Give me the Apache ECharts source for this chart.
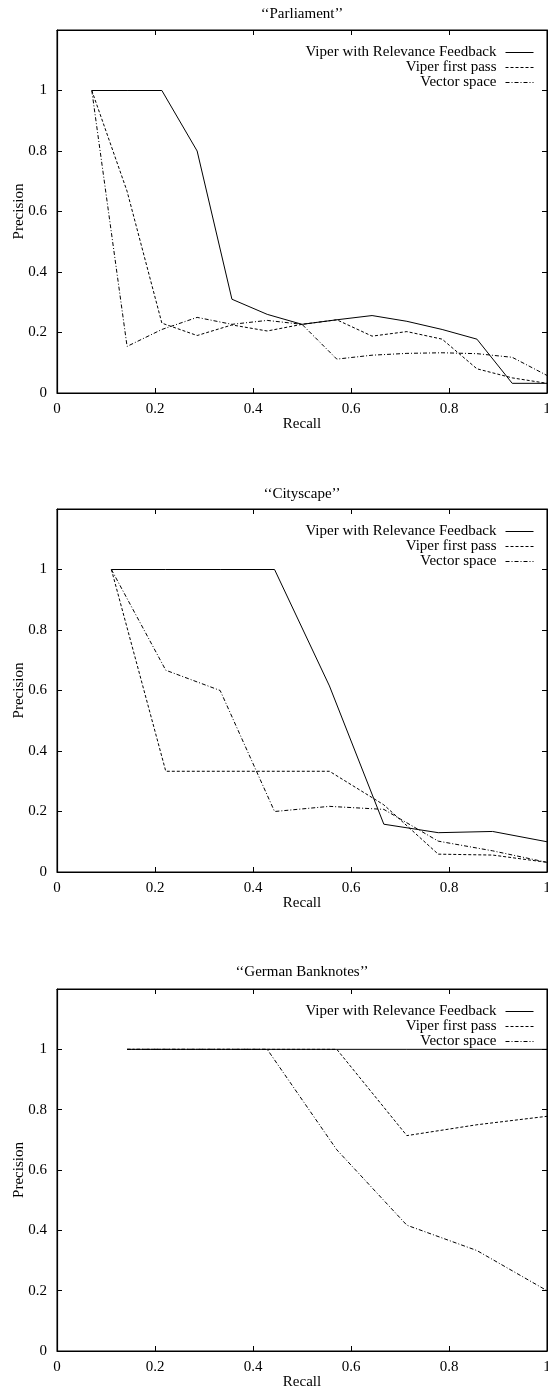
<!DOCTYPE html>
<html><head><meta charset="utf-8">
<script src="https://cdn.jsdelivr.net/npm/echarts@6/dist/echarts.min.js"></script>
<style>html,body{margin:0;padding:0;background:#fff}#c{width:548px;height:1392px}</style>
</head><body><div id="c"></div>
<script>
// ---------- data ----------
const seriesNames = ['Viper with Relevance Feedback', 'Viper first pass', 'Vector space'];
const chartTitles = ['\u2018\u2018Parliament\u2019\u2019', '\u2018\u2018Cityscape\u2019\u2019', '\u2018\u2018German Banknotes\u2019\u2019'];
const xAxisTitle = 'Recall';
const yAxisTitle = 'Precision';

const parliamentRecall   = [0.071, 0.143, 0.214, 0.286, 0.357, 0.429, 0.500, 0.571, 0.643, 0.714, 0.786, 0.857, 0.929, 1.000];
const parliamentFeedback = [1, 1, 1, 0.8, 0.31, 0.26, 0.227, 0.242, 0.256, 0.237, 0.21, 0.178, 0.032, 0.032];
const parliamentFirst    = [1, 0.667, 0.231, 0.19, 0.225, 0.205, 0.227, 0.242, 0.188, 0.203, 0.178, 0.08, 0.05, 0.032];
const parliamentVector   = [1, 0.154, 0.21, 0.25, 0.227, 0.24, 0.227, 0.112, 0.125, 0.131, 0.133, 0.13, 0.118, 0.058];

const cityRecall   = [0.111, 0.222, 0.333, 0.444, 0.556, 0.667, 0.778, 0.889, 1.000];
const cityFeedback = [1, 1, 1, 1, 0.615, 0.158, 0.13, 0.134, 0.1];
const cityFirst    = [1, 0.333, 0.333, 0.333, 0.333, 0.222, 0.059, 0.056, 0.032];
const cityVector   = [1, 0.667, 0.6, 0.2, 0.217, 0.207, 0.102, 0.07, 0.032];

const bankRecall   = [0.143, 0.286, 0.429, 0.571, 0.714, 0.857, 1.000];
const bankFeedback = [1, 1, 1, 1, 1, 1, 1];
const bankFirst    = [1, 1, 1, 1, 0.714, 0.75, 0.778];
const bankVector   = [1, 1, 1, 0.667, 0.417, 0.333, 0.2];

const panels = [
  { recall: parliamentRecall, values: [parliamentFeedback, parliamentFirst, parliamentVector] },
  { recall: cityRecall,       values: [cityFeedback, cityFirst, cityVector] },
  { recall: bankRecall,       values: [bankFeedback, bankFirst, bankVector] }
];

// ---------- layout / style ----------
const FONT = 'Liberation Serif';
const gridTops = [30, 509, 989];
const gridHeights = [363, 363, 362];
const titleTops = [7, 487, 965];
const lineTypes = ['solid', [3, 2], [4, 2, 1, 2]];
const txt = { color: '#000', fontFamily: FONT, fontSize: 15 };

const grid = [], xAxis = [], yAxis = [], series = [], title = [], legend = [];
panels.forEach((p, k) => {
  grid.push({ left: 57, right: 1, top: gridTops[k], height: gridHeights[k], show: true,
              borderColor: '#000', borderWidth: 1, outerBoundsMode: 'none', containLabel: false });
  title.push({ text: chartTitles[k], left: 302, top: titleTops[k], textAlign: 'center', padding: 0,
               textStyle: Object.assign({ fontWeight: 'normal' }, txt) });
  const axLine = { show: true, onZero: false, lineStyle: { color: '#000', width: 1.2 } };
  const tick = { show: true, inside: true, length: 5, lineStyle: { color: '#000', width: 1 } };
  xAxis.push({ type: 'value', gridIndex: k, min: 0, max: 1, interval: 0.2, position: 'bottom',
               axisLine: axLine, axisTick: tick, splitLine: { show: false },
               axisLabel: Object.assign({ margin: 9 }, txt),
               name: xAxisTitle, nameLocation: 'middle', nameGap: 24, nameMoveOverlap: false, nameTextStyle: txt });
  xAxis.push({ type: 'value', gridIndex: k, min: 0, max: 1, interval: 0.2, position: 'top',
               axisLine: axLine, axisTick: tick, splitLine: { show: false }, axisLabel: { show: false } });
  yAxis.push({ type: 'value', gridIndex: k, min: 0, max: 1.2, interval: 0.2, position: 'left',
               axisLine: axLine, axisTick: tick, splitLine: { show: false },
               axisLabel: Object.assign({ margin: 10, formatter: v => (v > 1.1 ? '' : String(+v.toFixed(1))) }, txt),
               name: yAxisTitle, nameLocation: 'middle', nameGap: 30, nameMoveOverlap: false, nameTextStyle: txt });
  yAxis.push({ type: 'value', gridIndex: k, min: 0, max: 1.2, interval: 0.2, position: 'right',
               axisLine: axLine, axisTick: tick, splitLine: { show: false }, axisLabel: { show: false } });
  seriesNames.forEach((name, s) => {
    series.push({
      type: 'line', name: name, xAxisIndex: 2 * k, yAxisIndex: 2 * k,
      data: p.recall.map((r, i) => [r, p.values[s][i]]),
      symbol: 'none', showSymbol: false, silent: true,
      itemStyle: { color: '#000' },
      lineStyle: { color: '#000', width: 1, type: lineTypes[s] }
    });
    legend.push({
      data: [name], right: 14, top: gridTops[k] + 15 + 15 * s, orient: 'horizontal', align: 'right',
      itemWidth: 28, itemHeight: 14, padding: 0, selectedMode: false,
      itemStyle: { opacity: 0 },
      lineStyle: { color: '#000', width: 1, type: lineTypes[s] },
      textStyle: Object.assign({ padding: [0, 4, 0, 0] }, txt)
    });
  });
});

const chart = echarts.init(document.getElementById('c'), null, { renderer: 'canvas' });
chart.setOption({ animation: false, backgroundColor: '#fff', title, legend, grid, xAxis, yAxis, series });
</script></body></html>
